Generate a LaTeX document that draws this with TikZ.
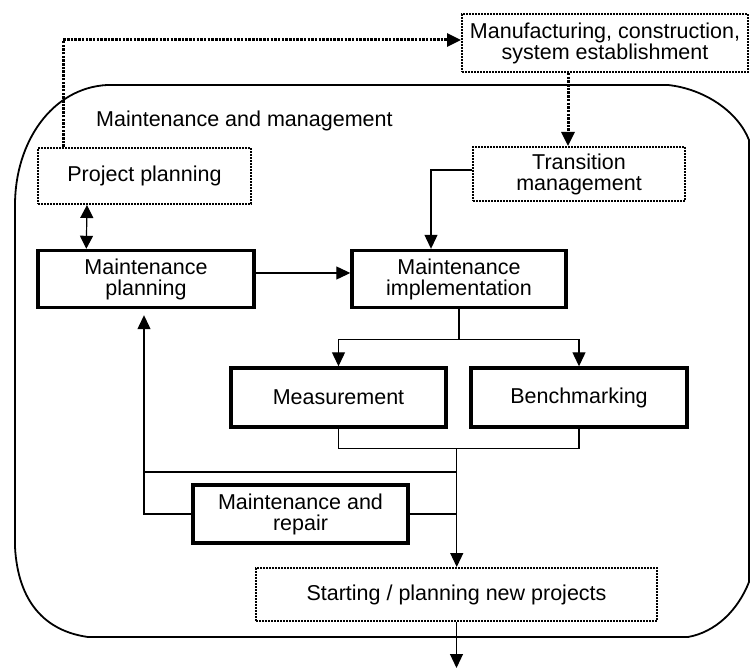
\documentclass[tikz,border=0pt]{standalone}
\usepackage{fontspec}
\setmainfont{Liberation Sans}
\usetikzlibrary{arrows.meta,calc}

\begin{document}
\begin{tikzpicture}[
		x=1pt, y=-1pt,
		every node/.style={font=\fontsize{21.5}{21}\selectfont, align=center, inner sep=0pt},
		SolidBox/.style={draw, line width=3.4pt, minimum width=215pt, minimum height=57pt},
		DotBox/.style={draw, densely dotted, line width=2pt, minimum height=55pt},
		Link/.style={line width=1.2pt},
		DotLink/.style={line width=3pt, dash pattern=on 2.5pt off 1.2pt},
		Tip/.style={-{Triangle[width=13pt,length=14pt]}}
	]
	% ===== KHUNG =====
	\useasboundingbox (0,0) rectangle (750,668);

	% ===== MIỀN BAO NGOÀI =====
	\draw[line width=1.8pt]
		(107,85) -- (668,85)
		.. controls (705,89) and (738,112) .. (749,140) -- (749,582)
		.. controls (738,610) and (716,632) .. (688,637) -- (88,637)
		.. controls (45,631) and (18,602) .. (15,547) -- (15,205)
		.. controls (15,142) and (52,88) .. (107,85) -- cycle;
	\node[anchor=west] (Vung) at (96,121) {Maintenance and management};

	% ===== CÁC HỘP =====
	\node[DotBox, minimum width=286pt, minimum height=58pt] (Mfg) at (605,43)
		{Manufacturing, construction,\\system establishment};
	\node[DotBox, minimum width=213pt, minimum height=56pt] (ProjPlan) at (144.5,176) {Project planning};
	\node[DotBox, minimum width=212pt, minimum height=54pt] (Trans) at (579,174) {Transition\\management};
	\node[SolidBox, minimum width=216pt] (MaintPlan) at (146,279) {Maintenance\\planning};
	\node[SolidBox, minimum width=214pt] (MaintImpl) at (459,279) {Maintenance\\implementation};
	\node[SolidBox, minimum height=59pt] (Meas) at (338.5,397.5) {Measurement};
	\node[SolidBox, minimum width=216pt, minimum height=59pt] (Bench) at (579,397.5) {Benchmarking};
	\node[SolidBox, minimum height=58pt] (Repair) at (300.5,514) {Maintenance and\\repair};
	\node[DotBox, minimum width=401pt, minimum height=53pt] (NewProj) at (456.5,594.5)
		{Starting / planning new projects};

	% ===== ĐƯỜNG NỐI CHẤM =====
	\coordinate (PPTop) at ($(ProjPlan.north west)+(26,0)$);
	\draw[DotLink, Tip] (PPTop) |- ($(Mfg.west)+(0,-3)$);
	\coordinate (TrTop) at ($(Trans.north)+(-11,0)$);
	\draw[DotLink, Tip] (Mfg.south -| TrTop) -- (TrTop);

	% ===== ĐƯỜNG NỐI LIỀN =====
	\draw[Link, Tip] ($(Trans.west)+(0,-4)$) -| ($(MaintImpl.north)+(-28,0)$);
	\draw[Link, {Triangle[width=13pt,length=13pt]}-{Triangle[width=13pt,length=13pt]}]
		($(ProjPlan.south west)+(50,0)$) -- ($(MaintPlan.north west)+(50,0)$);
	\draw[Link, Tip] ($(MaintPlan.east)+(0,-6)$) -- ($(MaintImpl.west)+(0,-6)$);

	\coordinate (Split) at ($(MaintImpl.south)+(0,30)$);
	\draw[Link] (MaintImpl.south) -- (Split);
	\draw[Link, Tip] (Split) -| (Meas.north);
	\draw[Link, Tip] (Split) -| (Bench.north);

	\coordinate (Join) at ($(Meas.south)!0.5!(Bench.south)+(-2,20)$);
	\draw[Link] (Meas.south) |- (Join) -| (Bench.south);
	\draw[Link, Tip] (Join) -- (Join |- NewProj.north);

	\coordinate (Back) at ($(MaintPlan.south)+(-2,0)$);
	\draw[Link] (Join |- 0,472) -- (Back |- 0,472);
	\draw[Link, Tip, shorten >=6pt] (Repair.west) -| (Back);
	\draw[Link] (Repair.east) -- (Join |- Repair.east);
	\draw[Link, Tip] (NewProj.south) -- (NewProj.south |- 0,668);

\end{tikzpicture}
\end{document}
